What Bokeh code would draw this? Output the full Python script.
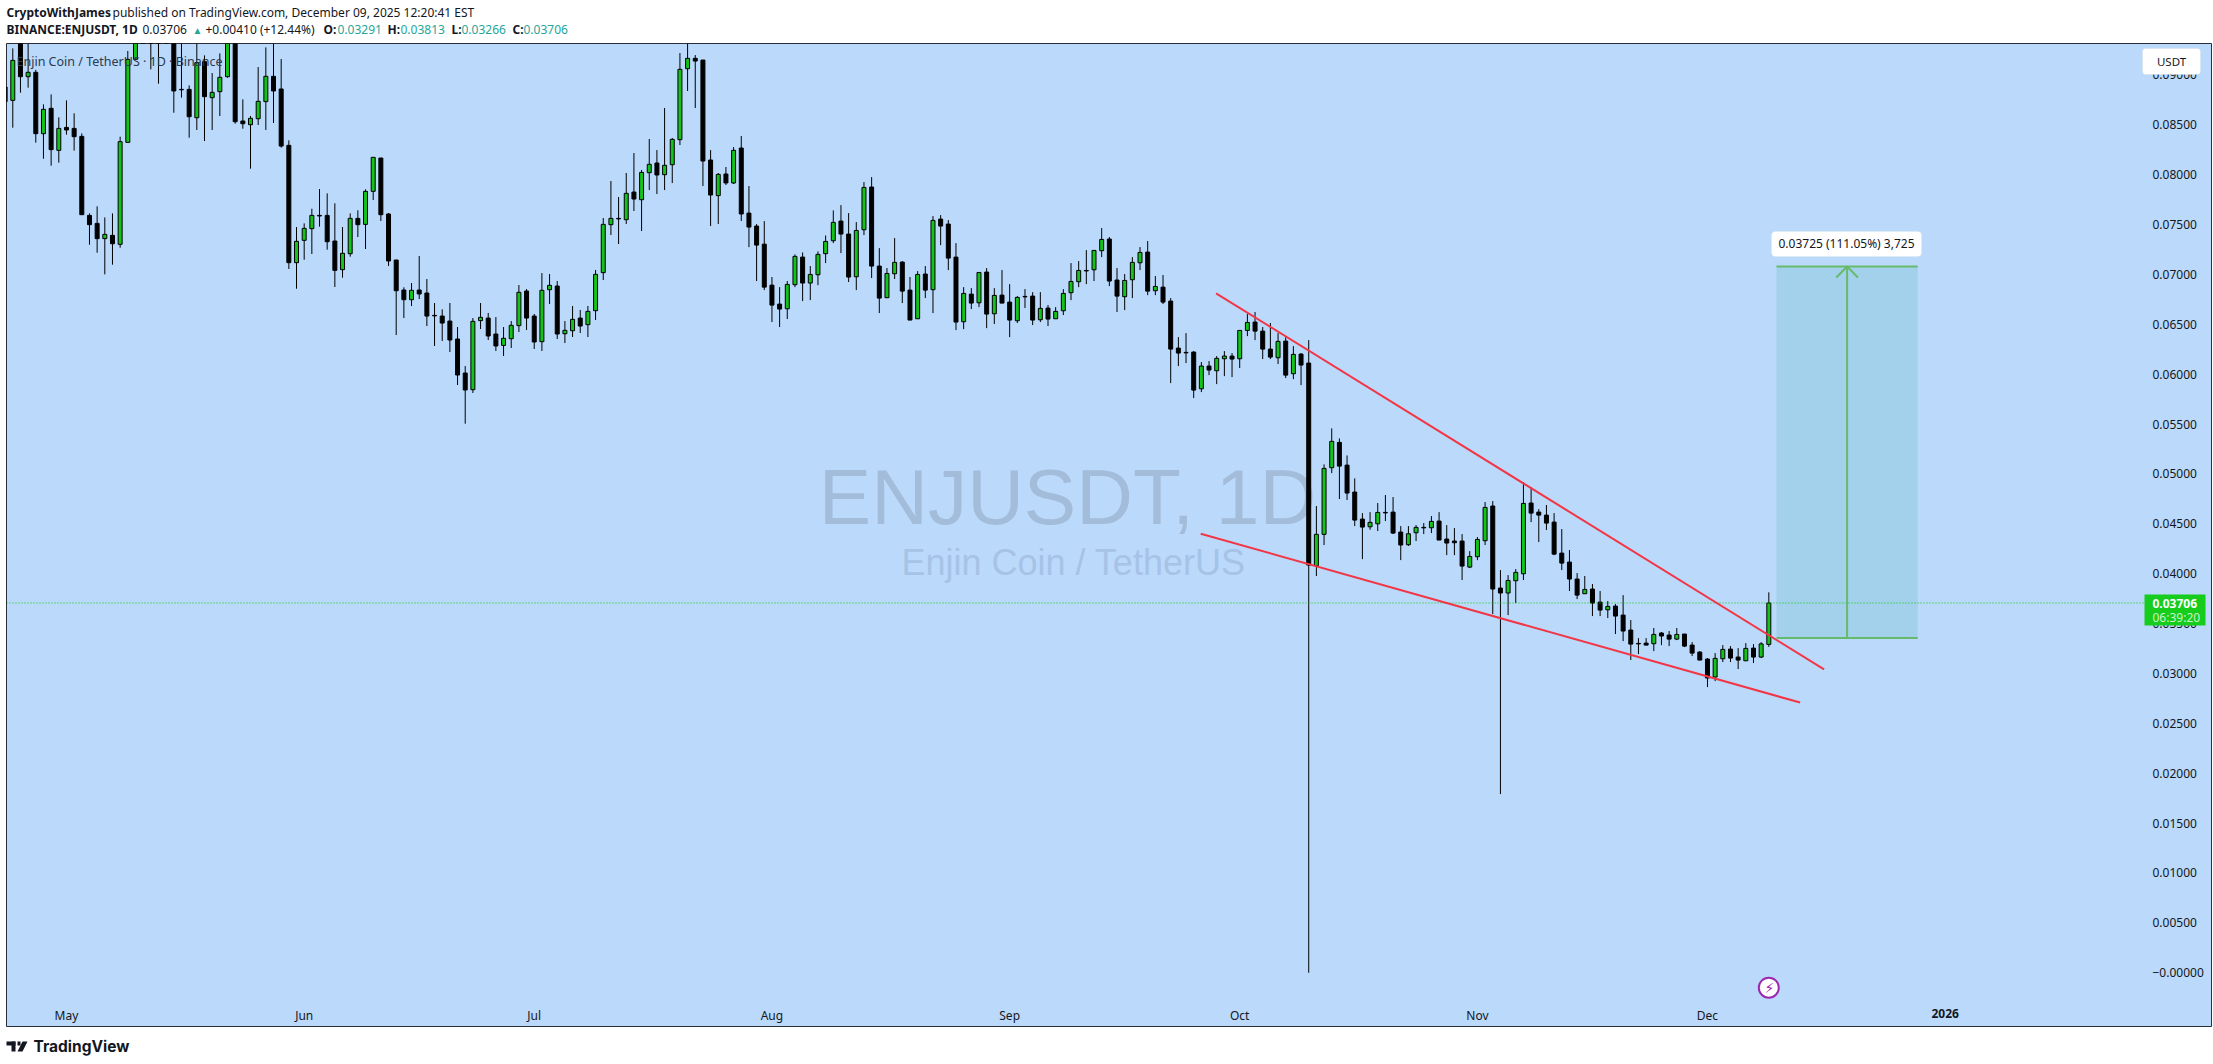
import pandas as pd
from bokeh.embed import file_html
from bokeh.layouts import column
from bokeh.resources import INLINE
from bokeh.plotting import figure
from bokeh.models import (BoxAnnotation, ColumnDataSource, FixedTicker, Label, Range1d, PolyAnnotation)

opens = [0.08878,0.08744,0.09400,0.08981,0.09025,0.08410,0.08664,0.08243,0.08473,0.08463,
0.08383,0.07591,0.07511,0.07358,0.07391,0.07301,0.08323,0.09155,0.10000,0.09900,
0.09700,0.09800,0.09500,0.08854,0.08854,0.08570,0.09132,0.08771,0.08831,0.08981,
0.09400,0.08537,0.08500,0.08560,0.08731,0.08985,0.08858,0.08293,0.07117,0.07341,
0.07458,0.07591,0.07591,0.07334,0.07047,0.07207,0.07561,0.07501,0.07832,0.08166,
0.07605,0.07144,0.06843,0.06746,0.06843,0.06813,0.06589,0.06582,0.06532,0.06352,
0.06011,0.05844,0.06536,0.06562,0.06402,0.06288,0.06355,0.06486,0.06833,0.06582,
0.06325,0.06846,0.06883,0.06405,0.06435,0.06562,0.06496,0.06636,0.07017,0.07498,
0.07561,0.07548,0.07825,0.07748,0.08019,0.08116,0.07999,0.08099,0.08350,0.09061,
0.09165,0.09148,0.08146,0.07789,0.08006,0.07916,0.08266,0.07614,0.07484,0.07303,
0.06892,0.06702,0.06655,0.06896,0.07173,0.06913,0.06996,0.07207,0.07337,0.07534,
0.07404,0.06976,0.07447,0.07875,0.07083,0.06766,0.07006,0.07123,0.06842,0.06555,
0.07003,0.06846,0.07554,0.07504,0.07173,0.06525,0.06802,0.06715,0.07023,0.06605,
0.06792,0.06722,0.06535,0.06779,0.06782,0.06545,0.06662,0.06555,0.06635,0.06816,
0.06926,0.07039,0.07046,0.07237,0.07354,0.06943,0.06776,0.06946,0.07116,0.07223,
0.06836,0.06872,0.06732,0.06261,0.06218,0.06221,0.05853,0.06081,0.06034,0.06154,
0.06181,0.06154,0.06438,0.06522,0.06431,0.06251,0.06164,0.06331,0.06004,0.06201,
0.06111,0.04079,0.04394,0.05062,0.05316,0.05088,0.04818,0.04547,0.04470,0.04500,
0.04614,0.04617,0.04417,0.04290,0.04410,0.04464,0.04460,0.04527,0.04347,0.04327,
0.04327,0.04066,0.04170,0.04330,0.04678,0.03856,0.03806,0.03929,0.03999,0.04708,
0.04617,0.04587,0.04517,0.04206,0.04116,0.03946,0.03799,0.03846,0.03715,0.03638,
0.03675,0.03585,0.03435,0.03301,0.03304,0.03298,0.03405,0.03385,0.03344,0.03395,
0.03284,0.03214,0.03144,0.02964,0.03147,0.03244,0.03164,0.03127,0.03254,0.03164,
0.03291]

highs = [0.08878,0.09265,0.09500,0.09430,0.09050,0.08704,0.08804,0.08574,0.08744,0.08614,
0.08413,0.07611,0.07682,0.07571,0.07611,0.08380,0.09239,0.09800,0.10100,0.10000,
0.09900,0.09900,0.09700,0.09400,0.08894,0.09400,0.09195,0.09018,0.09215,0.09500,
0.09500,0.08754,0.08587,0.09078,0.09275,0.09400,0.09158,0.08343,0.07474,0.07511,
0.07658,0.07855,0.07812,0.07712,0.07474,0.07611,0.07642,0.07852,0.08173,0.08166,
0.07615,0.07144,0.06870,0.06913,0.07184,0.06953,0.06713,0.06649,0.06713,0.06472,
0.06081,0.06562,0.06713,0.06613,0.06572,0.06472,0.06532,0.06893,0.06853,0.06603,
0.07013,0.07003,0.06933,0.06532,0.06683,0.06643,0.06683,0.07044,0.07565,0.07936,
0.07775,0.08016,0.08216,0.08046,0.08357,0.08246,0.08667,0.08367,0.09218,0.09450,
0.09198,0.09148,0.08246,0.08016,0.08076,0.08276,0.08387,0.07885,0.07504,0.07534,
0.06973,0.06872,0.06933,0.07200,0.07220,0.07083,0.07230,0.07390,0.07641,0.07694,
0.07614,0.07524,0.07925,0.07975,0.07263,0.07063,0.07364,0.07133,0.06973,0.07033,
0.07083,0.07584,0.07594,0.07544,0.07313,0.06872,0.06862,0.07019,0.07063,0.06862,
0.07043,0.06902,0.06782,0.06852,0.06822,0.06822,0.06692,0.06672,0.06852,0.07113,
0.07133,0.07243,0.07243,0.07464,0.07374,0.07063,0.07003,0.07173,0.07273,0.07334,
0.06983,0.06993,0.06762,0.06371,0.06411,0.06231,0.06121,0.06131,0.06181,0.06231,
0.06211,0.06438,0.06602,0.06622,0.06472,0.06512,0.06411,0.06371,0.06281,0.06211,
0.06341,0.04678,0.05095,0.05456,0.05356,0.05185,0.04955,0.04607,0.04617,0.04708,
0.04788,0.04768,0.04477,0.04477,0.04487,0.04507,0.04577,0.04617,0.04487,0.04457,
0.04397,0.04226,0.04367,0.04718,0.04728,0.04036,0.03986,0.04046,0.04918,0.04868,
0.04647,0.04688,0.04607,0.04447,0.04237,0.04006,0.03976,0.03896,0.03826,0.03725,
0.03695,0.03785,0.03535,0.03354,0.03354,0.03455,0.03415,0.03425,0.03455,0.03395,
0.03314,0.03224,0.03154,0.03204,0.03284,0.03274,0.03254,0.03304,0.03294,0.03314,
0.03813]

lows = [0.08731,0.08470,0.08821,0.08871,0.08320,0.08159,0.08089,0.08119,0.08400,0.08240,
0.07598,0.07297,0.07217,0.07000,0.07097,0.07267,0.08323,0.09155,0.09400,0.09055,
0.08911,0.09400,0.08620,0.08771,0.08370,0.08447,0.08336,0.08447,0.08587,0.08971,
0.08510,0.08460,0.08059,0.08497,0.08447,0.08517,0.08270,0.07054,0.06856,0.07147,
0.07204,0.07478,0.07247,0.06873,0.06967,0.07177,0.07374,0.07254,0.07745,0.07535,
0.07084,0.06392,0.06562,0.06683,0.06753,0.06482,0.06282,0.06332,0.06222,0.05891,
0.05503,0.05811,0.06452,0.06342,0.06232,0.06182,0.06262,0.06422,0.06442,0.06252,
0.06232,0.06703,0.06352,0.06312,0.06372,0.06412,0.06372,0.06542,0.06943,0.07394,
0.07304,0.07505,0.07635,0.07434,0.07845,0.07805,0.07845,0.07915,0.08296,0.08838,
0.08667,0.07885,0.07484,0.07505,0.07895,0.07905,0.07535,0.07273,0.06933,0.06842,
0.06522,0.06472,0.06552,0.06872,0.06732,0.06742,0.06892,0.07113,0.07313,0.07213,
0.06923,0.06842,0.07394,0.06963,0.06612,0.06766,0.06953,0.06712,0.06542,0.06555,
0.06762,0.06612,0.07293,0.07043,0.06441,0.06451,0.06652,0.06672,0.06461,0.06502,
0.06712,0.06371,0.06512,0.06662,0.06492,0.06522,0.06482,0.06555,0.06592,0.06742,
0.06872,0.06902,0.06933,0.07173,0.06882,0.06622,0.06642,0.06762,0.07043,0.06792,
0.06792,0.06702,0.05910,0.06081,0.06111,0.05760,0.05820,0.05990,0.05900,0.05980,
0.05970,0.06061,0.06381,0.06341,0.06151,0.06151,0.06101,0.05960,0.05950,0.05890,
0.00000,0.03976,0.04287,0.05008,0.04748,0.04738,0.04477,0.04146,0.04440,0.04427,
0.04527,0.04397,0.04136,0.04277,0.04327,0.04397,0.04407,0.04337,0.04186,0.04186,
0.03936,0.04056,0.04136,0.04287,0.03595,0.01791,0.03585,0.03705,0.03936,0.04517,
0.04317,0.04437,0.04186,0.04036,0.03826,0.03745,0.03796,0.03575,0.03575,0.03555,
0.03395,0.03324,0.03134,0.03194,0.03284,0.03224,0.03284,0.03274,0.03334,0.03264,
0.03174,0.03134,0.02863,0.02923,0.03114,0.03114,0.03044,0.03124,0.03104,0.03154,
0.03266]

closes = [0.08731,0.09145,0.08981,0.09025,0.08410,0.08654,0.08250,0.08463,0.08447,0.08380,
0.07598,0.07498,0.07358,0.07401,0.07307,0.08330,0.09155,0.09700,0.09600,0.09500,
0.09400,0.09500,0.08838,0.08850,0.08580,0.09122,0.08781,0.08824,0.08975,0.09350,
0.08530,0.08510,0.08564,0.08734,0.08985,0.08838,0.08286,0.07117,0.07331,0.07461,
0.07591,0.07585,0.07327,0.07040,0.07211,0.07561,0.07498,0.07832,0.08173,0.07598,
0.07134,0.06836,0.06746,0.06840,0.06803,0.06582,0.06584,0.06512,0.06342,0.05991,
0.05841,0.06529,0.06569,0.06382,0.06282,0.06359,0.06489,0.06820,0.06562,0.06322,
0.06840,0.06890,0.06402,0.06439,0.06549,0.06482,0.06629,0.07000,0.07501,0.07561,
0.07556,0.07812,0.07755,0.08022,0.08103,0.07996,0.08093,0.08353,0.09055,0.09165,
0.09138,0.08136,0.07795,0.08002,0.07916,0.08243,0.07605,0.07474,0.07293,0.06872,
0.06692,0.06652,0.06899,0.07180,0.06913,0.06999,0.07200,0.07330,0.07521,0.07404,
0.06973,0.07440,0.07871,0.07083,0.06762,0.07009,0.07120,0.06832,0.06542,0.06999,
0.06842,0.07541,0.07484,0.07163,0.06522,0.06809,0.06712,0.07019,0.06602,0.06789,
0.06712,0.06542,0.06769,0.06774,0.06542,0.06659,0.06552,0.06629,0.06809,0.06929,
0.07039,0.07034,0.07240,0.07350,0.06933,0.06782,0.06939,0.07120,0.07220,0.06832,
0.06879,0.06722,0.06251,0.06211,0.06213,0.05840,0.06081,0.06041,0.06158,0.06181,
0.06151,0.06438,0.06518,0.06431,0.06251,0.06171,0.06328,0.05990,0.06198,0.06091,
0.04086,0.04394,0.05055,0.05326,0.05078,0.04808,0.04537,0.04467,0.04514,0.04614,
0.04609,0.04407,0.04287,0.04400,0.04464,0.04459,0.04524,0.04337,0.04307,0.04310,
0.04076,0.04173,0.04343,0.04664,0.03846,0.03806,0.03932,0.04013,0.04704,0.04607,
0.04587,0.04507,0.04196,0.04106,0.03946,0.03785,0.03842,0.03705,0.03635,0.03672,
0.03575,0.03425,0.03294,0.03296,0.03284,0.03391,0.03375,0.03344,0.03391,0.03274,
0.03204,0.03134,0.02954,0.03151,0.03241,0.03154,0.03134,0.03251,0.03164,0.03296,
0.03706]

month_dates = ["2025-05-01", "2025-06-01", "2025-07-01", "2025-08-01", "2025-09-01", "2025-10-01", "2025-11-01", "2025-12-01"]
month_labels = ["May", "Jun", "Jul", "Aug", "Sep", "Oct", "Nov", "Dec"]
y_ticks = [0.0, 0.005, 0.01, 0.015, 0.02, 0.025, 0.03, 0.035, 0.04, 0.045, 0.05, 0.055, 0.06, 0.065, 0.07, 0.075, 0.08, 0.085, 0.09]
y_labels = ["\u22120.00000", "0.00500", "0.01000", "0.01500", "0.02000", "0.02500", "0.03000", "0.03500", "0.04000", "0.04500",
            "0.05000", "0.05500", "0.06000", "0.06500", "0.07000", "0.07500", "0.08000", "0.08500", "0.09000"]
last_price = 0.03706
target_base, target_top = 0.03354, 0.07079
wedge_upper_dates = ["2025-09-27 22:00", "2025-12-16 05:00"]
wedge_upper_prices = [0.06810, 0.03041]
wedge_lower_dates = ["2025-09-25 22:00", "2025-12-13 02:00"]
wedge_lower_prices = [0.04400, 0.02708]
target_start, target_end = "2025-12-10", "2025-12-28 10:00"

BG = "#bbd9fb"
GREEN = "#13c31a"
FONT = "Noto Sans"
INK = "#131722"
TEAL = "#26a69a"

start = pd.Timestamp("2025-04-23")
def day(s):
    return (pd.Timestamp(s) - start) / pd.Timedelta(days=1)

x = [day(d) for d in pd.date_range(start, periods=len(opens))]
up = [c > o for o, c in zip(opens, closes)]
src = ColumnDataSource(dict(
    x=x, open=opens, high=highs, low=lows, close=closes,
    top=[max(o, c) for o, c in zip(opens, closes)],
    bottom=[min(o, c) for o, c in zip(opens, closes)],
    fill=[GREEN if u else "#000000" for u in up],
))

# main chart panel: x 6..2212, y 43..1027 on the page
OX, OY = 6, 43
X0, X1 = 0.18, 287.86
p = figure(frame_width=2206, frame_height=984, output_backend="svg", toolbar_location=None,
           x_range=Range1d(X0, X1), y_range=Range1d(-0.005488, 0.093139),
           y_axis_location="right", min_border_left=0, min_border_right=0,
           min_border_top=0, min_border_bottom=0,
           background_fill_color=BG, border_fill_color="#ffffff",
           outline_line_color="#2a2e39", margin=(0, 1, 0, OX))
p.grid.visible = False

def box(fig, l, r, t, b, fill=None, line=None, lw=1, radius=0, ox=0, oy=0):
    fig.add_layout(BoxAnnotation(left=l - ox, right=r - ox, top=t - oy, bottom=b - oy, left_units="canvas", right_units="canvas",
                                 top_units="canvas", bottom_units="canvas",
                                 fill_color=fill or "#ffffff", fill_alpha=1 if fill else 0,
                                 line_color=line, line_width=lw, border_radius=radius, level="annotation"))

p.yaxis.ticker = FixedTicker(ticks=y_ticks)
p.yaxis.major_label_overrides = dict(zip(y_ticks, y_labels))
month_ticks = [day(d) for d in month_dates]
p.xaxis.ticker = FixedTicker(ticks=month_ticks)
p.xaxis.major_label_overrides = dict(zip(month_ticks, month_labels))
for ax in (p.xaxis[0], p.yaxis[0]):
    ax.axis_line_color = None
    ax.major_tick_line_color = None
    ax.minor_tick_line_color = None
    ax.major_tick_in = 0
    ax.major_tick_out = 0
    ax.major_label_text_font = FONT
    ax.major_label_text_font_size = "12px"
    ax.major_label_text_color = INK
p.yaxis.major_label_standoff = -60
p.xaxis.major_label_standoff = -21

def text(fig, s, x, y, size="12px", color=INK, style="normal", align="left", font=FONT, level="annotation",
         x_units="canvas", y_units="canvas", ox=0, oy=0):
    fig.add_layout(Label(text=s, x=x - ox, y=y - oy, x_units=x_units, y_units=y_units, text_font=font, text_font_size=size,
                         text_color=color, text_font_style=style, text_align=align, text_baseline="middle",
                         level=level))

def mtext(s, x, y, **kw):
    text(p, s, x, y, ox=OX, oy=OY, **kw)

def mbox(l, r, t, b, **kw):
    box(p, l, r, t, b, ox=OX, oy=OY, **kw)

# watermark, under the candles
mtext("ENJUSDT, 1D", 1067, 496, size="78.5px", color="#a3bcda", align="center", font="Liberation Sans", level="underlay")
mtext("Enjin Coin / TetherUS", 1073, 562, size="36px", color="#a6c3e6", align="center", font="Liberation Sans", level="underlay")

# target box
p.quad(left=day(target_start), right=day(target_end), bottom=target_base, top=target_top,
       fill_color="#a3d0ea", line_color=None, level="underlay")

# candles
p.segment("x", "high", "x", "low", source=src, line_color="#000000", line_width=1)
p.vbar("x", 0.52, "top", "bottom", source=src, fill_color="fill", line_color="#000000", line_width=1)

# price line, ends at the price label
p.line([X0, day("2026-01-28 03:00")], [last_price, last_price], line_color="#00d000", line_width=1, line_dash="1 2")

# wedge
p.line([day(d) for d in wedge_upper_dates], wedge_upper_prices, line_color="#f23645", line_width=2)
p.line([day(d) for d in wedge_lower_dates], wedge_lower_prices, line_color="#f23645", line_width=2)

# target lines and arrow
tgt_l, tgt_r = day(target_start), day(target_end)
tgt_m = (tgt_l + tgt_r) / 2
TG = "#66bb6a"
p.line([tgt_l, tgt_r], [target_base, target_base], line_color=TG, line_width=2)
p.line([tgt_l, tgt_r], [target_top, target_top], line_color=TG, line_width=2)
p.line([tgt_m, tgt_m], [target_base, target_top], line_color=TG, line_width=2)
p.line([tgt_m - 1.41, tgt_m, tgt_m + 1.41], [target_top - 0.0011, target_top, target_top - 0.0011], line_color=TG, line_width=2)

# measure label
mbox(1771, 1921, 231, 256, fill="#ffffff", line="#dfe6f0", radius=4)
mtext("0.03725 (111.05%) 3,725", 1846, 243, align="center")

# right side boxes
mbox(2144, 2205, 594, 625, fill="#16cc1c")
mtext("0.03706", 2152, 603, color="#ffffff", style="bold")
mtext("06:39:20", 2152, 617, color="#c8f5c8")
mbox(2142, 2200, 48, 74, fill="#ffffff", line="#d1d4dc", radius=3)
mtext("USDT", 2171, 61, size="11.5px", align="center")

# lightning badge
p.scatter([day("2025-12-09")], [-0.0015], size=20, marker="circle", fill_color="#ffffff", line_color="#9c27b0", line_width=2)
mtext("\u26a1", 1769, 987, size="14px", color="#9c27b0", align="center", font="DejaVu Sans")

# 2026 tick, in bold
text(p, "2026", day("2026-01-01"), 1013 - OY, style="bold", align="center", x_units="data")

mtext("Enjin Coin / TetherUS \u00b7 1D \u00b7 Binance", 16, 61, size="12.5px", color="#2a3a50")

# header strip
def strip(h):
    f = figure(width=2213, height=h, output_backend="svg", toolbar_location=None,
               x_range=Range1d(0, 2213), y_range=Range1d(0, h),
               x_axis_location=None, y_axis_location=None, min_border=0,
               background_fill_color="#ffffff", border_fill_color="#ffffff", outline_line_color=None)
    f.grid.visible = False
    return f

head = strip(43)
text(head, "CryptoWithJames", 6, 12, style="bold")
text(head, "published on TradingView.com, December 09, 2025 12:20:41 EST", 112, 12)
text(head, "BINANCE:ENJUSDT, 1D", 6, 29, style="bold")
text(head, "0.03706", 142, 29)
text(head, "\u25b2", 192, 29, size="10px", color=TEAL)
text(head, "+0.00410 (+12.44%)", 205, 29)
for lab, lx, val, vx in [("O:", 323, "0.03291", 337), ("H:", 387, "0.03813", 400), ("L:", 451, "0.03266", 461), ("C:", 512, "0.03706", 523)]:
    text(head, lab, lx, 29, style="bold")
    text(head, val, vx, 29, color=TEAL)

# footer strip
FOOT = 1027
foot = strip(36)
for (l, r, t, b) in [(6, 15, 1041, 1045), (11, 15, 1041, 1051), (17, 20, 1041, 1045)]:
    box(foot, l, r, t, b, fill=INK, oy=FOOT)
foot.add_layout(PolyAnnotation(xs=[22, 27, 22, 17], ys=[14, 14, 24, 24], xs_units="canvas", ys_units="canvas",
                               fill_color=INK, fill_alpha=1, line_color=None, level="annotation"))
text(foot, "TradingView", 33, 1046, size="15.5px", style="bold", font="Inter", oy=FOOT)

page = column(head, p, foot, spacing=0)
open("out.html", "w").write(file_html(page, INLINE))
